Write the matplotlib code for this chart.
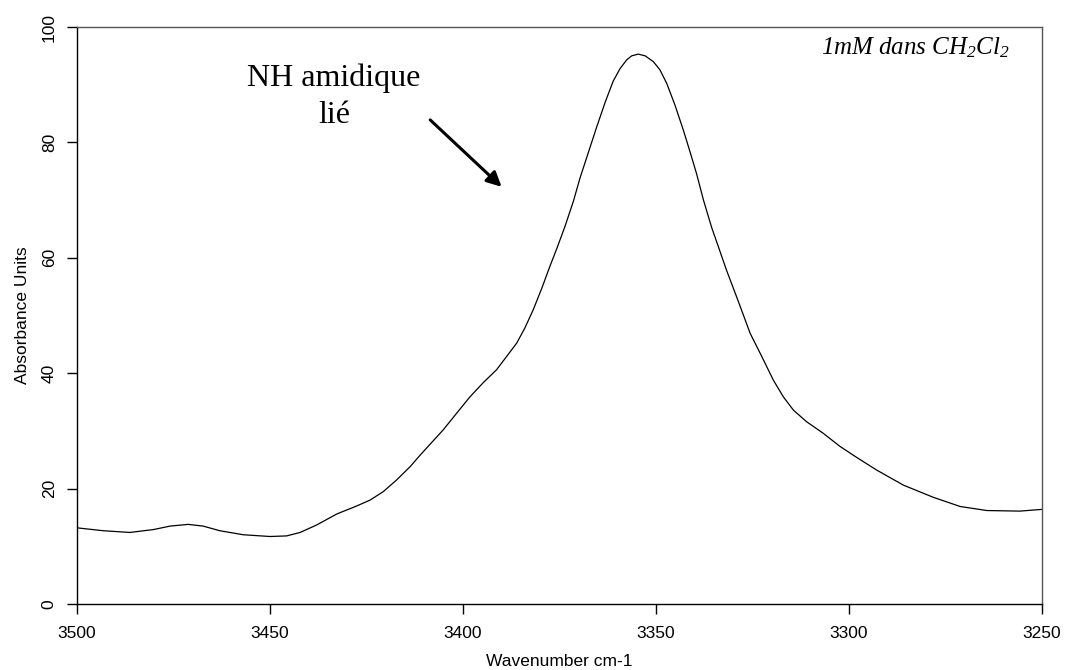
import matplotlib
matplotlib.use("Agg")
import matplotlib.pyplot as plt

# Data
wavenumber = [3500, 3493.2, 3486.3, 3480.2, 3475.9, 3471.2, 3467.3, 3463.0, 3456.9,
              3450.0, 3445.7, 3442.2, 3437.9, 3432.7, 3427.5, 3424.1, 3420.6,
              3417.2, 3413.7, 3411.1, 3405.1, 3401.6,
              3398.2, 3394.7, 3391.3, 3388.7, 3386.1, 3384.0, 3381.8, 3379.6,
              3377.5, 3375.7, 3373.6, 3371.4, 3369.7, 3367.5, 3365.4, 3363.2, 3361.1,
              3359.3, 3357.6, 3356.3, 3354.6, 3352.8, 3350.7, 3349.0, 3347.2,
              3345.1, 3342.9, 3341.2, 3339.5, 3337.7, 3335.6, 3331.7, 3328.7,
              3325.6, 3322.6, 3319.6, 3317.0, 3314.4, 3311.0, 3306.7, 3302.3,
              3298.0, 3292.8, 3285.9, 3278.2, 3271.2, 3264.3, 3255.7, 3250]
absorbance = [13.2, 12.7, 12.4, 12.9, 13.5, 13.8, 13.5, 12.7, 12.0,
              11.7, 11.8, 12.4, 13.7, 15.6, 17.0, 18.0, 19.5,
              21.5, 23.8, 25.8, 30.2, 33.1,
              35.9, 38.4, 40.6, 42.9, 45.2, 47.8, 51.0, 54.7,
              58.5, 61.6, 65.4, 69.8, 73.8, 78.3, 82.6, 86.9, 90.6,
              92.8, 94.3, 95.0, 95.3, 95.0, 94.0, 92.6, 90.2,
              86.5, 82.1, 78.4, 74.6, 70.0, 65.3, 57.8, 52.5,
              46.9, 42.9, 38.8, 35.9, 33.6, 31.6, 29.6, 27.3,
              25.4, 23.2, 20.6, 18.5, 16.9, 16.2, 16.1, 16.4]

x_ticks = [3500, 3450, 3400, 3350, 3300, 3250]
y_ticks = [0, 20, 40, 60, 80, 100]

plt.rcParams['font.family'] = ['Liberation Sans', 'DejaVu Sans']
plt.rcParams['mathtext.fontset'] = 'custom'
plt.rcParams['mathtext.rm'] = 'Liberation Serif:italic'
plt.rcParams['mathtext.it'] = 'Liberation Serif:italic'

fig = plt.figure(figsize=(10.65, 6.7), dpi=100)
ax = fig.add_axes([0.0723, 0.0985, 0.9061, 0.8612])

ax.plot(wavenumber, absorbance, color='black', lw=0.9,
        solid_joinstyle='round', antialiased=True)

ax.set_xlim(3500, 3250)
ax.set_ylim(0, 100)
ax.set_xticks(x_ticks)
ax.set_yticks(y_ticks)
ax.tick_params(axis='both', direction='out', length=7.5, width=1, labelsize=12.5,
               colors='black')
ax.tick_params(axis='x', pad=8)
ax.tick_params(axis='y', pad=7)
for lab in ax.get_yticklabels():
    lab.set_rotation(90)
    lab.set_va('center')

for side in ['left', 'bottom']:
    ax.spines[side].set_color('black')
    ax.spines[side].set_linewidth(1.0)
for side in ['top', 'right']:
    ax.spines[side].set_color('#555555')
    ax.spines[side].set_linewidth(1.0)

ax.set_xlabel('Wavenumber cm-1', fontsize=12.5, labelpad=9.5)
ax.set_ylabel('Absorbance Units', fontsize=12.5)
ax.yaxis.set_label_coords(-0.049, 0.5)

ax.text(3433.4, 87.9, 'NH amidique\nlié', family=['Liberation Serif', 'DejaVu Serif'],
        fontsize=23, ha='center', va='center', linespacing=1.35)

ax.annotate('', xy=(3390.0, 72.3), xytext=(3408.5, 83.9),
            arrowprops=dict(arrowstyle='-|>', color='black', lw=2.2,
                            mutation_scale=22, shrinkA=0, shrinkB=0))

ax.text(0.967, 0.9636, r'$1mM\ dans\ CH_2Cl_2$', transform=ax.transAxes,
        fontsize=18, ha='right', va='center')

fig.savefig('out.png', dpi=100)
